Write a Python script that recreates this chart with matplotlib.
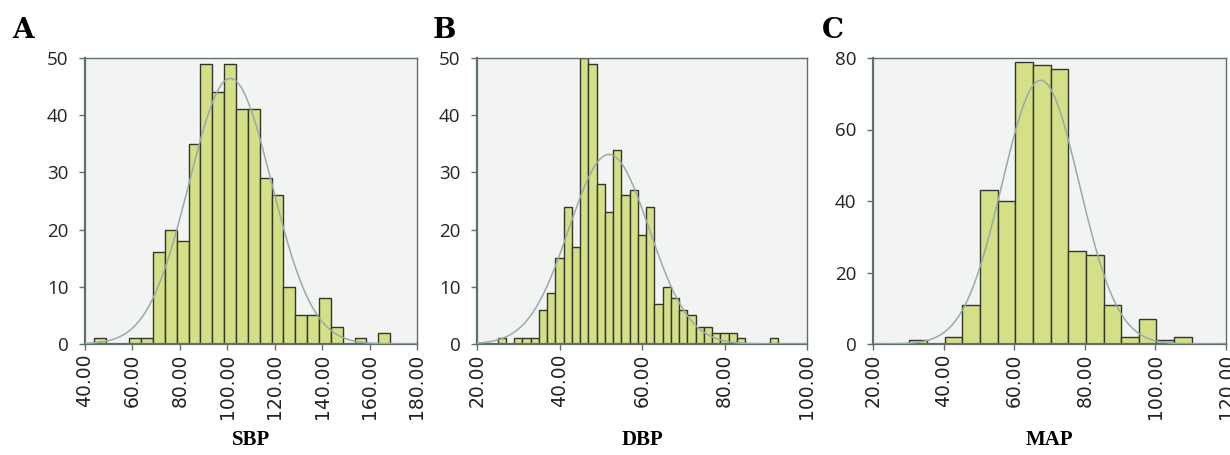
import numpy as np
import matplotlib
matplotlib.use("Agg")
import matplotlib.pyplot as plt

# ---- data ----
sbp_start, sbp_width = 43.7, 5.0
sbp_counts = [1, 0, 0, 1, 1, 16, 20, 18, 35, 49, 44, 49, 41, 41, 29, 26, 10, 5, 5, 8, 3, 0, 1, 0, 2]
sbp_mean, sbp_sd = 101.3, 17.4

dbp_start, dbp_width = 25.0, 2.0
dbp_counts = [1, 0, 1, 1, 1, 6, 9, 15, 24, 17, 50, 49, 28, 23, 34, 26, 27, 19, 24, 7, 10, 8, 6, 5,
              3, 3, 2, 2, 2, 1, 0, 0, 0, 1]
dbp_mean, dbp_sd = 52.0, 9.75

map_start, map_width = 30.3, 5.0
map_counts = [1, 0, 2, 11, 43, 40, 79, 78, 77, 26, 25, 11, 2, 7, 1, 2]
map_mean, map_sd = 67.5, 10.95

panel_letters = ["A", "B", "C"]
x_labels = ["SBP", "DBP", "MAP"]
x_ticks = [[40, 60, 80, 100, 120, 140, 160, 180],
           [20, 40, 60, 80, 100],
           [20, 40, 60, 80, 100, 120]]
y_ticks = [[0, 10, 20, 30, 40, 50],
           [0, 10, 20, 30, 40, 50],
           [0, 20, 40, 60, 80]]

# ---- style ----
W, H = 1230, 455
fig = plt.figure(figsize=(W / 100, H / 100), dpi=100)
bar_fc = "#d4df88"
bar_ec = "#34362a"
bg = "#f2f4f3"
spine_c = "#5f6e6e"
curve_c = "#9aaaa8"

boxes = [(85, 417), (477, 807), (873, 1226)]
top_px, bot_px = 58, 344
letter_x = [12, 433, 822]

datasets = [
    (sbp_start, sbp_width, sbp_counts, sbp_mean, sbp_sd),
    (dbp_start, dbp_width, dbp_counts, dbp_mean, dbp_sd),
    (map_start, map_width, map_counts, map_mean, map_sd),
]

for i, (start, width, counts, mu, sd) in enumerate(datasets):
    l, r = boxes[i]
    ax = fig.add_axes([l / W, 1 - bot_px / H, (r - l) / W, (bot_px - top_px) / H])
    ax.set_facecolor(bg)
    counts = np.array(counts, dtype=float)
    lefts = start + width * np.arange(len(counts))
    mask = counts > 0
    ax.bar(lefts[mask], counts[mask], width=width, align="edge",
           color=bar_fc, edgecolor=bar_ec, linewidth=1.0, zorder=2)
    xt = x_ticks[i]
    yt = y_ticks[i]
    xs = np.linspace(xt[0], xt[-1], 400)
    n = counts.sum()
    ys = n * width / (sd * np.sqrt(2 * np.pi)) * np.exp(-0.5 * ((xs - mu) / sd) ** 2)
    ax.plot(xs, ys, color=curve_c, linewidth=1.1, zorder=3)
    ax.set_xlim(xt[0], xt[-1])
    ax.set_ylim(yt[0], yt[-1])
    ax.set_xticks(xt)
    ax.set_xticklabels([f"{v:.2f}" for v in xt], rotation=90, fontsize=13.5,
                       family="DejaVu Sans", color="#222222")
    ax.set_yticks(yt)
    ax.set_yticklabels([str(v) for v in yt], fontsize=13.5, family="Open Sans",
                       color="#222222")
    for s in ax.spines.values():
        s.set_color(spine_c)
        s.set_linewidth(1.0)
    ax.spines["bottom"].set_linewidth(1.6)
    ax.spines["left"].set_linewidth(1.6)
    ax.tick_params(axis="both", direction="out", length=4, width=1, color=spine_c, pad=3)
    ax.tick_params(axis="y", pad=8)
    fig.text(letter_x[i] / W, 1 - 31 / H, panel_letters[i], fontsize=20,
             fontweight="bold", family="DejaVu Serif", va="center", ha="left")
    fig.text((l + r) / 2 / W, 1 - 440 / H, x_labels[i], fontsize=15,
             fontweight="bold", family="Liberation Serif", va="center", ha="center")

fig.savefig("out.png", dpi=100)
